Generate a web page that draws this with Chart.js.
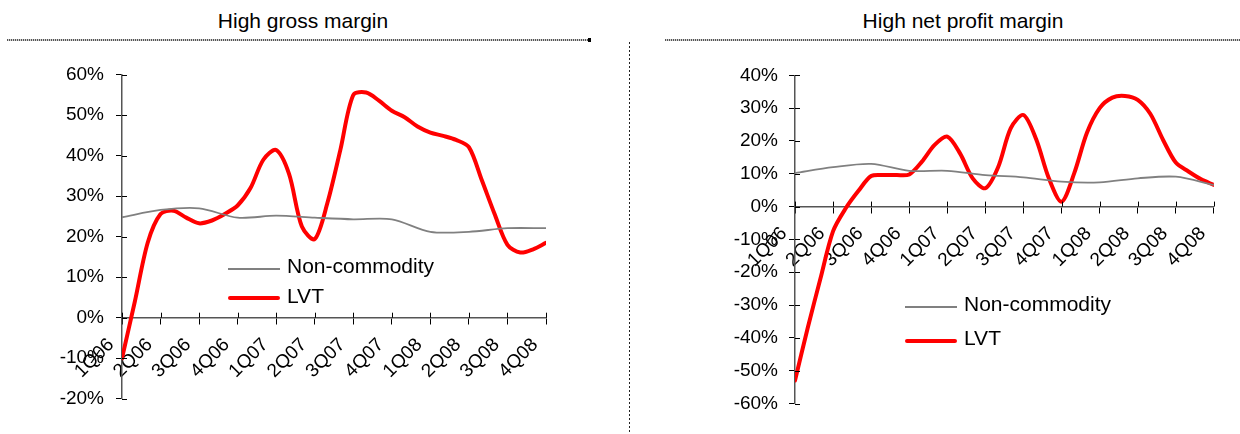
<!DOCTYPE html>
<html><head><meta charset="utf-8">
<script src="https://cdn.jsdelivr.net/npm/chart.js@4.4.1/dist/chart.umd.min.js"></script>
<style>
body{margin:0;background:#fff;width:1240px;height:434px;overflow:hidden;position:relative;font-family:"Liberation Sans",Arial,sans-serif;}
.abs{position:absolute;}
.title{font-size:21px;line-height:21px;color:#000;white-space:nowrap;transform:translateX(-50%);}
.rule{height:2px;background:repeating-linear-gradient(90deg,#555 0 1px,#d0d0d0 1px 2px);}
.vrule{width:1px;background:repeating-linear-gradient(180deg,#222 0 2px,#fff 2px 4px);}
.lg{font-size:21px;line-height:21px;white-space:nowrap;color:#000;}
.lgray{height:2px;background:#808080;}
.lred{height:4px;background:#ff0000;border-radius:2px;}
canvas{position:absolute;top:0;}
</style></head><body>
<div class="abs title" style="left:303px;top:10px;">High gross margin</div>
<div class="abs rule" style="left:7px;top:39px;width:584px;"></div>
<div class="abs" style="left:588px;top:38px;width:3px;height:4px;background:#000;"></div>
<div class="abs title" style="left:963px;top:10px;">High net profit margin</div>
<div class="abs rule" style="left:665px;top:39px;width:575px;"></div>
<div class="abs vrule" style="left:629px;top:42px;height:392px;"></div>

<canvas id="c1" width="620" height="434" style="left:0px;"></canvas>
<canvas id="c2" width="610" height="434" style="left:630px;"></canvas>

<div class="abs lgray" style="left:228px;top:268px;width:52px;"></div>
<div class="abs lg" style="left:287px;top:255px;">Non-commodity</div>
<div class="abs lred" style="left:228px;top:296px;width:52px;"></div>
<div class="abs lg" style="left:287px;top:285px;">LVT</div>

<div class="abs lgray" style="left:905px;top:306px;width:52px;"></div>
<div class="abs lg" style="left:964px;top:293px;">Non-commodity</div>
<div class="abs lred" style="left:905px;top:339px;width:52px;"></div>
<div class="abs lg" style="left:964px;top:327px;">LVT</div>

<script>
const quarterLabels = ['1Q06','2Q06','3Q06','4Q06','1Q07','2Q07','3Q07','4Q07','1Q08','2Q08','3Q08','4Q08'];

// monthly LVT values (3 per quarter, first point at 1Q06, last at 4Q08)
const grossLVT = [-10, 4, 18.5, 25.6, 26.4, 24.7, 23.3, 24.0, 25.6, 27.7, 32, 39,
  41.4, 35.5, 22.5, 19.4, 28.5, 41.5, 55, 55.6, 53.6, 51.1, 49.5, 47.2,
  45.7, 44.9, 43.9, 42.1, 34, 25.6, 18, 16.1, 16.9, 18.5];
const grossNonCommodity = [24.8, 26.6, 27.0, 24.7, 25.2, 24.7, 24.3, 24.3, 21.2, 21.2, 22.1, 22.1];

const netLVT = [-53, -37, -22, -7.5, -0.5, 4.8, 9.3, 9.6, 9.6, 9.8, 13.7, 18.8,
  21.3, 16.2, 8.6, 5.6, 12, 23.9, 27.9, 20.5, 8.6, 1.5, 10.2, 22.5,
  30, 33.2, 33.7, 32.5, 28.2, 20.3, 13.4, 10.7, 8.3, 6.6];
const netNonCommodity = [10.2, 12.0, 13.0, 10.9, 10.9, 9.6, 8.9, 7.6, 7.4, 8.6, 9.1, 6.6];

const FONT = '"Liberation Sans", Arial, sans-serif';

const monthly = arr => arr.map((v, i) => ({x: i / 3, y: v}));
const quarterly = arr => arr.map((v, i) => ({x: i, y: v}));

const innerTicks = {
  id: 'innerTicks',
  afterDraw(chart) {
    const ctx = chart.ctx, xs = chart.scales.x, ys = chart.scales.y;
    const y0 = ys.getPixelForValue(0);
    ctx.save();
    ctx.strokeStyle = '#000';
    ctx.lineWidth = 1;
    ctx.beginPath();
    xs.ticks.forEach((t, i) => {
      const px = Math.round(xs.getPixelForTick(i)) + 0.5;
      ctx.moveTo(px, y0 - 5); ctx.lineTo(px, y0);
    });
    ys.ticks.forEach((t, i) => {
      const py = Math.round(ys.getPixelForTick(i)) + 0.5;
      ctx.moveTo(ys.right, py); ctx.lineTo(ys.right + 5, py);
    });
    ctx.stroke();
    ctx.restore();
  }
};

function makeChart(id, lvt, nonc, ymin, ymax, padding, ypad) {
  return new Chart(document.getElementById(id), {
    type: 'line',
    data: {
      datasets: [
        {label: 'Non-commodity', data: quarterly(nonc), borderColor: '#808080', borderWidth: 1.8,
         pointRadius: 0, tension: 0.3, fill: false},
        {label: 'LVT', data: monthly(lvt), borderColor: '#ff0000', borderWidth: 4,
         pointRadius: 0, tension: 0.3, fill: false, borderCapStyle: 'round', borderJoinStyle: 'round'}
      ]
    },
    options: {
      responsive: false,
      animation: false,
      layout: {padding: padding},
      plugins: {legend: {display: false}, tooltip: {enabled: false}},
      scales: {
        x: {
          type: 'linear', position: {y: 0}, min: 0, max: 11,
          grid: {display: true, drawOnChartArea: false, drawTicks: true, tickLength: 6, color: '#000', tickColor: '#000'},
          border: {display: true, color: '#555', width: 1.5},
          ticks: {stepSize: 1, autoSkip: false, maxTicksLimit: 20, minRotation: 45, maxRotation: 45,
                  padding: 10, labelOffset: -11, color: '#000',
                  font: {family: FONT, size: 19},
                  callback: v => quarterLabels[v] ?? ''}
        },
        y: {
          min: ymin, max: ymax,
          afterFit: s => { s.width = 70; },
          grid: {display: true, drawOnChartArea: false, drawTicks: true, tickLength: 6, color: '#000', tickColor: '#000'},
          border: {display: true, color: '#555', width: 1.5},
          ticks: {stepSize: 10, padding: ypad, color: '#000', font: {family: FONT, size: 19},
                  callback: v => v + '%'}
        }
      }
    },
    plugins: [innerTicks]
  });
}

makeChart('c1', grossLVT, grossNonCommodity, -20, 60, {left: 52, top: 74.7, right: 74, bottom: 35.3}, 12);
makeChart('c2', netLVT, netNonCommodity, -60, 40, {left: 95, top: 75.3, right: 23, bottom: 30.5}, 11);
</script>
</body></html>
